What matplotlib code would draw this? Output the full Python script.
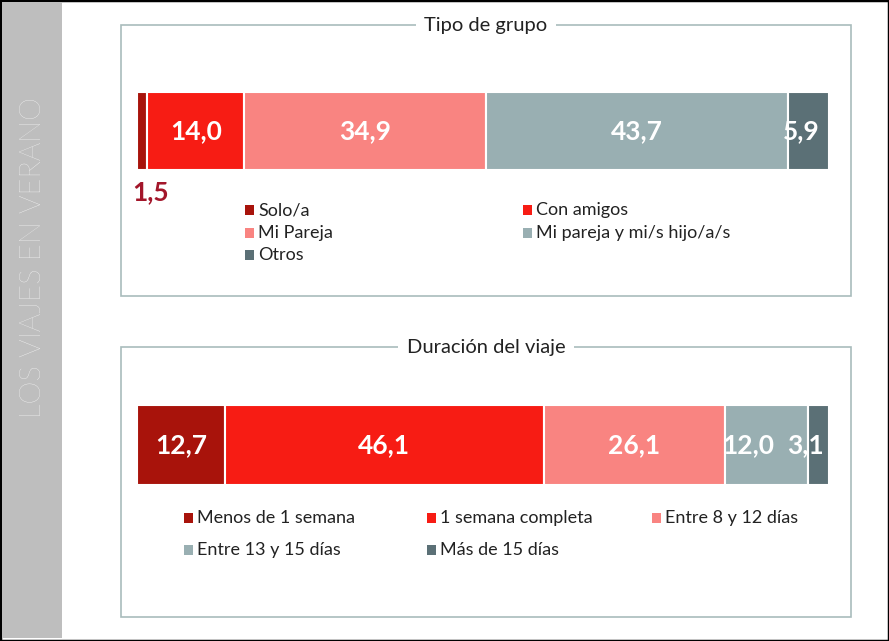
import matplotlib.pyplot as plt
from matplotlib.patches import Rectangle

plt.rcParams['font.family'] = ['Lato', 'DejaVu Sans']

# data
grupo_labels = ['Solo/a', 'Con amigos', 'Mi Pareja', 'Mi pareja y mi/s hijo/a/s', 'Otros']
grupo_values = [1.5, 14.0, 34.9, 43.7, 5.9]
duracion_labels = ['Menos de 1 semana', '1 semana completa', 'Entre 8 y 12 días',
                   'Entre 13 y 15 días', 'Más de 15 días']
duracion_values = [12.7, 46.1, 26.1, 12.0, 3.1]
colors = ['#a8130b', '#f71c14', '#f98481', '#99afb2', '#5b7076']

W, H = 889, 641
fig = plt.figure(figsize=(W / 100, H / 100), dpi=100)


def fx(x):
    return x / W


def fy(y):
    return 1 - y / H


# outer frame and side band
fig.patches.append(Rectangle((0, 0), 1, 1, transform=fig.transFigure, fill=False,
                             edgecolor='black', linewidth=2.5))
fig.patches.append(Rectangle((fx(2), fy(638)), fx(60), (636) / H, transform=fig.transFigure,
                             facecolor='#bebebe', edgecolor='none'))
fig.text(fx(33), fy(258), 'LOS VIAJES EN VERANO', rotation=90, color='white',
         fontsize=21, fontweight='light', ha='center', va='center')


def panel(top, bottom, title):
    fig.patches.append(Rectangle((fx(121), fy(bottom)), fx(851 - 121), (bottom - top) / H,
                                 transform=fig.transFigure, fill=False,
                                 edgecolor='#a9bcbc', linewidth=1.2))
    fig.text(fx(486), fy(top), title, ha='center', va='center', fontsize=14.5,
             color='#222222', bbox=dict(facecolor='white', edgecolor='none', pad=6))


def bar(top, bottom, values, offsets):
    ax = fig.add_axes([fx(137), fy(bottom), fx(829 - 137), (bottom - top) / H])
    left = 0
    for v, c, off in zip(values, colors, offsets):
        ax.barh(0, v, left=left, height=1, color=c, edgecolor='white', linewidth=1.5)
        if off is not None:
            ax.text(left + v / 2 + off, 0, f'{v:.1f}'.replace('.', ','), ha='center',
                    va='center', color='white', fontsize=19, fontweight='bold')
        left += v
    ax.set_xlim(0, 100)
    ax.set_ylim(-0.5, 0.5)
    ax.axis('off')
    return ax


def legend(labels, cols, rows):
    for i, lab in enumerate(labels):
        x = cols[i % len(cols)]
        y = rows[i // len(cols)]
        fig.patches.append(Rectangle((fx(x), fy(y + 5)), fx(9), 10 / H, transform=fig.transFigure,
                                     facecolor=colors[i], edgecolor='none'))
        fig.text(fx(x + 13), fy(y), lab, ha='left', va='center', fontsize=13, color='#222222')


# Tipo de grupo
panel(25, 296, 'Tipo de grupo')
ax1 = bar(92, 170, grupo_values, [None, 0, 0, 0, -1.0])
ax1.annotate(f'{grupo_values[0]:.1f}'.replace('.', ','), xy=(grupo_values[0] / 2, -0.5),
             xytext=(6, -16), textcoords='offset points', ha='center', va='center',
             color='#a3162a', fontsize=19, fontweight='bold', annotation_clip=False)
legend(grupo_labels, [245, 523], [210, 233, 255])

# Duración del viaje
panel(347, 617, 'Duración del viaje')
bar(405, 485, duracion_values, [0, 0, 0, -2.6, -1.9])
legend(duracion_labels, [184, 427, 652], [518, 550])

fig.savefig('out.png', dpi=100)
